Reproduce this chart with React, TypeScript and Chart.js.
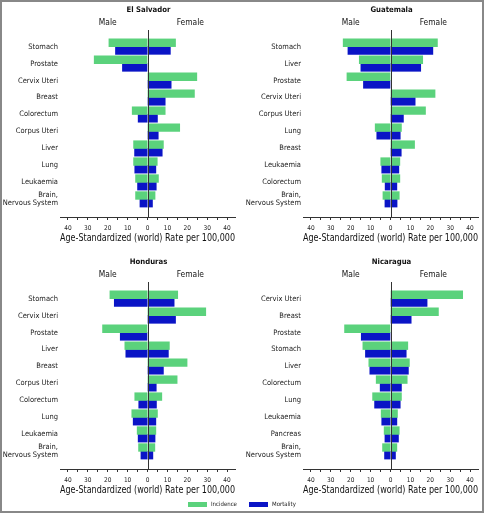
import React, { useEffect, useRef } from 'react';
import { Chart, registerables } from 'chart.js';

Chart.register(...registerables);

const FONT = "'DejaVu Sans Condensed', 'Liberation Sans', Arial, sans-serif";
const GREEN = '#5bd27c';
const BLUE = '#0a14c6';

// ---- Data (rates per 100,000; male values shown on left) ----
const elSalvadorCats = ['Stomach', 'Prostate', 'Cervix Uteri', 'Breast', 'Colorectum', 'Corpus Uteri', 'Liver', 'Lung', 'Leukaemia', 'Brain, Nervous System'];
const elSalvadorIncM = [19.4, 26.8, null, null, 7.7, null, 7.0, 7.0, 6.0, 6.0];
const elSalvadorIncF = [14.1, null, 24.8, 23.6, 8.9, 16.2, 8.0, 4.9, 5.5, 3.8];
const elSalvadorMorM = [16.1, 12.6, null, null, 4.7, null, 6.5, 6.4, 5.0, 3.8];
const elSalvadorMorF = [11.5, null, 11.9, 8.9, 5.0, 5.4, 7.4, 4.2, 4.4, 2.5];

const guatemalaCats = ['Stomach', 'Liver', 'Prostate', 'Cervix Uteri', 'Corpus Uteri', 'Lung', 'Breast', 'Leukaemia', 'Colorectum', 'Brain, Nervous System'];
const guatemalaIncM = [23.8, 15.7, 21.9, null, null, 7.7, null, 4.9, 4.2, 3.8];
const guatemalaIncF = [23.6, 16.2, null, 22.4, 17.6, 5.5, 12.1, 4.7, 4.7, 4.4];
const guatemalaMorM = [21.4, 14.9, 13.6, null, null, 6.9, null, 4.4, 2.7, 2.8];
const guatemalaMorF = [21.3, 15.2, null, 12.4, 6.5, 4.9, 5.4, 4.2, 3.2, 3.3];

const hondurasCats = ['Stomach', 'Cervix Uteri', 'Prostate', 'Liver', 'Breast', 'Corpus Uteri', 'Colorectum', 'Lung', 'Leukaemia', 'Brain, Nervous System'];
const hondurasIncM = [18.9, null, 22.6, 11.4, null, null, 6.4, 7.9, 5.2, 4.5];
const hondurasIncF = [15.2, 29.3, null, 11.0, 19.9, 14.9, 7.2, 5.0, 4.2, 3.7];
const hondurasMorM = [16.7, null, 13.7, 10.9, null, null, 4.4, 7.2, 4.7, 3.3];
const hondurasMorF = [13.4, 14.1, null, 10.5, 8.0, 4.4, 4.5, 4.2, 3.8, 2.7];

const nicaraguaCats = ['Cervix Uteri', 'Breast', 'Prostate', 'Stomach', 'Liver', 'Colorectum', 'Lung', 'Leukaemia', 'Pancreas', 'Brain, Nervous System'];
const nicaraguaIncM = [null, null, 23.1, 13.9, 10.9, 7.2, 9.0, 4.7, 3.2, 4.0];
const nicaraguaIncF = [36.3, 24.1, null, 8.7, 9.5, 8.4, 5.5, 3.5, 4.4, 3.2];
const nicaraguaMorM = [null, null, 14.7, 12.6, 10.4, 5.2, 8.0, 4.4, 2.8, 3.0];
const nicaraguaMorF = [18.4, 10.4, null, 7.9, 9.0, 5.5, 4.9, 3.2, 4.0, 2.5];

const axisMin = -44;
const axisMax = 44;
const axisTitle = 'Age-Standardized (world) Rate per 100,000';
const legendLabels = ['Incidence', 'Mortality'];

type Arr = (number | null)[];

interface PanelProps {
  title: string;
  cats: string[];
  incM: Arr;
  incF: Arr;
  morM: Arr;
  morF: Arr;
  left: number;
  top: number;
}

function Panel({ title, cats, incM, incF, morM, morF, left, top }: PanelProps) {
  const ref = useRef<HTMLCanvasElement | null>(null);

  useEffect(() => {
    if (!ref.current) return;
    const toPts = (arr: Arr, sign: number) =>
      arr
        .map((v, i) => (v == null ? null : { x: sign * v, y: i }))
        .filter((p) => p !== null) as { x: number; y: number }[];

    const textPlugin = {
      id: 'panelText',
      afterDatasetsDraw(chart: any) {
        const { ctx, chartArea, scales } = chart;
        const x = scales.x;
        const zx = Math.round(x.getPixelForValue(0)) + 0.5;
        ctx.save();
        ctx.strokeStyle = '#333';
        ctx.lineWidth = 1;
        ctx.beginPath();
        ctx.moveTo(zx, chartArea.top);
        ctx.lineTo(zx, chartArea.bottom);
        ctx.stroke();
        ctx.fillStyle = '#111';
        ctx.textAlign = 'center';
        ctx.textBaseline = 'middle';
        ctx.font = `bold 7.7px ${FONT}`;
        ctx.fillText(title, zx, 10);
        ctx.font = `8.4px ${FONT}`;
        ctx.fillText('Male', x.getPixelForValue(-20), 23);
        ctx.fillText('Female', x.getPixelForValue(21.5), 23);
        ctx.restore();
      },
    };

    const barCommon = { barThickness: 7.7, borderWidth: 0, grouped: true };

    const chart = new Chart(ref.current, {
      type: 'bar',
      data: {
        datasets: [
          { label: 'Incidence', data: toPts(incM, -1), backgroundColor: GREEN, stack: 'inc', ...barCommon },
          { label: 'Incidence F', data: toPts(incF, 1), backgroundColor: GREEN, stack: 'inc', ...barCommon },
          { label: 'Mortality', data: toPts(morM, -1), backgroundColor: BLUE, stack: 'mor', ...barCommon },
          { label: 'Mortality F', data: toPts(morF, 1), backgroundColor: BLUE, stack: 'mor', ...barCommon },
        ] as any,
      },
      options: {
        indexAxis: 'y',
        animation: false,
        responsive: false,
        devicePixelRatio: 1,
        layout: { padding: { top: 30, right: 8, left: 0, bottom: 0 } },
        plugins: { legend: { display: false }, tooltip: { enabled: false }, title: { display: false } },
        scales: {
          x: {
            type: 'linear',
            min: axisMin,
            max: axisMax,
            stacked: true,
            afterFit: (s: any) => {
              s.height = 33;
            },
            grid: {
              drawOnChartArea: false,
              drawTicks: true,
              tickLength: 3,
              tickColor: '#333',
              color: '#333',
            },
            border: { display: true, color: '#333', width: 1 },
            ticks: {
              stepSize: 5,
              includeBounds: false,
              autoSkip: false,
              maxRotation: 0,
              padding: 4,
              color: '#222',
              font: { family: FONT, size: 6.5 },
              callback: (v: any) => (Number(v) % 10 === 0 ? String(Math.abs(Number(v))) : ''),
            },
            title: {
              display: true,
              text: axisTitle,
              color: '#111',
              font: { family: FONT, size: 9.9 },
              padding: { top: 0, bottom: 6 },
            },
          },
          y: {
            type: 'linear',
            reverse: true,
            min: -0.98,
            max: 10.04,
            offset: false,
            afterFit: (s: any) => {
              s.width = 60;
            },
            afterBuildTicks: (s: any) => {
              s.ticks = cats.map((_, i) => ({ value: i }));
            },
            grid: { display: false, drawTicks: false },
            border: { display: false },
            ticks: {
              padding: 2,
              autoSkip: false,
              color: '#222',
              font: { family: FONT, size: 7.5, lineHeight: 1.1 },
              callback: (v: any) => {
                const c = cats[Number(v)];
                if (c === undefined) return '';
                const k = c.indexOf(', ');
                return k >= 0 ? [c.slice(0, k + 1), c.slice(k + 2)] : c;
              },
            },
          },
        },
      } as any,
      plugins: [textPlugin],
    });
    return () => chart.destroy();
  }, []);

  return (
    <canvas
      ref={ref}
      width={243}
      height={250}
      style={{ position: 'absolute', left, top, width: 243, height: 250 }}
    />
  );
}

export default function App() {
  return (
    <div
      style={{
        position: 'absolute',
        left: 0,
        top: 0,
        width: 486,
        height: 514,
        background: '#fff',
        fontFamily: FONT,
      }}
    >
      <div
        style={{
          position: 'absolute',
          left: 0,
          top: 0,
          width: 484,
          height: 513,
          border: '2px solid #888',
          boxSizing: 'border-box',
        }}
      />
      <Panel title="El Salvador" cats={elSalvadorCats} incM={elSalvadorIncM} incF={elSalvadorIncF} morM={elSalvadorMorM} morF={elSalvadorMorF} left={0} top={0} />
      <Panel title="Guatemala" cats={guatemalaCats} incM={guatemalaIncM} incF={guatemalaIncF} morM={guatemalaMorM} morF={guatemalaMorF} left={243} top={0} />
      <Panel title="Honduras" cats={hondurasCats} incM={hondurasIncM} incF={hondurasIncF} morM={hondurasMorM} morF={hondurasMorF} left={0} top={252} />
      <Panel title="Nicaragua" cats={nicaraguaCats} incM={nicaraguaIncM} incF={nicaraguaIncF} morM={nicaraguaMorM} morF={nicaraguaMorF} left={243} top={252} />
      <div style={{ position: 'absolute', left: 188, top: 502, width: 19, height: 5, background: GREEN }} />
      <div style={{ position: 'absolute', left: 211, top: 499, fontSize: 6, lineHeight: '10px', color: '#222' }}>{legendLabels[0]}</div>
      <div style={{ position: 'absolute', left: 249, top: 502, width: 19, height: 5, background: BLUE }} />
      <div style={{ position: 'absolute', left: 272, top: 499, fontSize: 6, lineHeight: '10px', color: '#222' }}>{legendLabels[1]}</div>
    </div>
  );
}
